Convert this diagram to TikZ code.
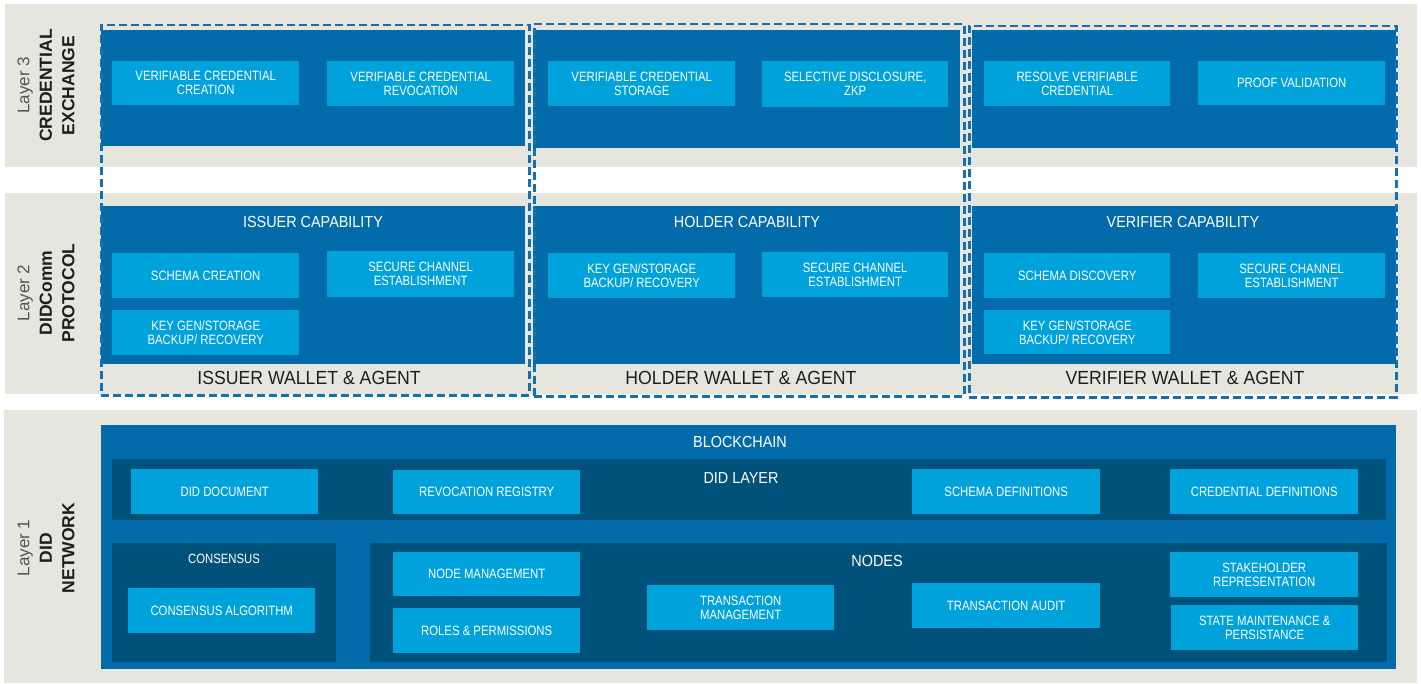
\documentclass[tikz,border=0pt]{standalone}
\usepackage{fontspec}
\setmainfont{Liberation Sans}
\newfontfamily\boxfont[FakeStretch=0.84]{Liberation Sans}
\newfontfamily\titlefont[FakeStretch=0.9]{Liberation Sans}
\newfontfamily\walletfont[FakeStretch=0.93]{Liberation Sans}
\definecolor{bandgray}{HTML}{E6E6DF}
\definecolor{midblue}{HTML}{046BAB}
\definecolor{lightblue}{HTML}{00A2DB}
\definecolor{deepblue}{HTML}{00527A}
\definecolor{dashblue}{HTML}{1570B0}
\definecolor{labelgray}{HTML}{555555}
\definecolor{darktext}{HTML}{1E1E1E}
\tikzset{
  band/.style={fill=bandgray, draw=none, inner sep=0, anchor=north west},
  panel/.style={fill=midblue, draw=none, inner sep=0, anchor=north west},
  deeppanel/.style={fill=deepblue, draw=none, inner sep=0, anchor=north west},
  item/.style={fill=lightblue, draw=none, inner sep=0, anchor=north west, text=white,
    align=center, font=\boxfont\fontsize{13.5}{14}\selectfont},
  title/.style={text=white, inner sep=0, font=\titlefont\fontsize{16}{18}\selectfont},
  subtitle/.style={text=white, inner sep=0, font=\boxfont\fontsize{13.5}{14}\selectfont},
  wallet/.style={text=darktext, inner sep=0, font=\walletfont\fontsize{19}{21}\selectfont},
  dashbox/.style={draw=dashblue, line width=2.5pt, dash pattern=on 8pt off 4pt, inner sep=0,
    anchor=north west},
  layerlabel/.style={rotate=90, align=center, inner sep=0, font=\fontsize{17}{22.5}\selectfont}
}
\newcommand{\lyr}[1]{{\fontsize{17}{22.5}\selectfont\color{labelgray}#1}}
\newcommand{\lyb}[1]{{\fontsize{17.5}{22.5}\selectfont\bfseries\color{darktext}#1}}
\begin{document}
\begin{tikzpicture}[x=1pt,y=-1pt]
\useasboundingbox (0,0) rectangle (1421,684);
\fill[white] (0,0) rectangle (1421,684);
% bands
\node[band, minimum width=1412pt, minimum height=163pt] (b3) at (5,4) {};
\node[band, minimum width=1412pt, minimum height=201pt] (b2) at (5,193) {};
\node[band, minimum width=1413pt, minimum height=273pt] (b1) at (4,410) {};
% layer labels
\node[layerlabel] (l3) at (46,85.5) {\lyr{Layer 3}\\\lyb{CREDENTIAL}\\\lyb{EXCHANGE}};
\node[layerlabel] (l2) at (46,293) {\lyr{Layer 2}\\\lyb{DIDComm}\\\lyb{PROTOCOL}};
\node[layerlabel] (l1) at (46,548) {\lyr{Layer 1}\\\lyb{DID}\\\lyb{NETWORK}};
% layer 3 panels
\node[panel, minimum width=424pt, minimum height=116pt] (ip3) at (101,30) {};
\node[panel, minimum width=427pt, minimum height=118pt] (hp3) at (533,30) {};
\node[panel, minimum width=424pt, minimum height=118pt] (vp3) at (972,30) {};
% layer 2 panels
\node[panel, minimum width=424pt, minimum height=158pt] (ip2) at (101,206) {};
\node[panel, minimum width=427pt, minimum height=158pt] (hp2) at (533,206) {};
\node[panel, minimum width=424pt, minimum height=158pt] (vp2) at (972,206) {};
% dashed wallet boxes
\node[dashbox, minimum width=428pt, minimum height=370pt] (iw) at (100,24) {};
\node[dashbox, minimum width=430pt, minimum height=372pt] (hw) at (533,23) {};
\node[dashbox, minimum width=427pt, minimum height=371pt] (vw) at (968,25) {};
% layer 3 items
\node[item, minimum width=187pt, minimum height=44pt] (vcc) at (112,61) {VERIFIABLE CREDENTIAL\\CREATION};
\node[item, minimum width=187pt, minimum height=45pt] (vcr) at (327,61) {VERIFIABLE CREDENTIAL\\REVOCATION};
\node[item, minimum width=187pt, minimum height=45pt] (vcs) at (548,61) {VERIFIABLE CREDENTIAL\\STORAGE};
\node[item, minimum width=186pt, minimum height=46pt] (sdz) at (762,61) {SELECTIVE DISCLOSURE,\\ZKP};
\node[item, minimum width=186pt, minimum height=45pt] (rvc) at (984,61) {RESOLVE VERIFIABLE\\CREDENTIAL};
\node[item, minimum width=187pt, minimum height=44pt] (pv) at (1198,61) {PROOF VALIDATION};
% layer 2 titles
\node[title] (icap) at (313,222) {ISSUER CAPABILITY};
\node[title] (hcap) at (747,222) {HOLDER CAPABILITY};
\node[title] (vcap) at (1183,222) {VERIFIER CAPABILITY};
% layer 2 items
\node[item, minimum width=187pt, minimum height=45pt] (isc) at (112,253) {SCHEMA CREATION};
\node[item, minimum width=187pt, minimum height=46pt] (iscs) at (327,251) {SECURE CHANNEL\\ESTABLISHMENT};
\node[item, minimum width=187pt, minimum height=45pt] (ikg) at (112,310) {KEY GEN/STORAGE\\BACKUP/ RECOVERY};
\node[item, minimum width=187pt, minimum height=45pt] (hkg) at (548,253) {KEY GEN/STORAGE\\BACKUP/ RECOVERY};
\node[item, minimum width=186pt, minimum height=45pt] (hscs) at (762,252) {SECURE CHANNEL\\ESTABLISHMENT};
\node[item, minimum width=186pt, minimum height=45pt] (vsd) at (984,253) {SCHEMA DISCOVERY};
\node[item, minimum width=187pt, minimum height=45pt] (vscs) at (1198,253) {SECURE CHANNEL\\ESTABLISHMENT};
\node[item, minimum width=186pt, minimum height=44pt] (vkg) at (984,310) {KEY GEN/STORAGE\\BACKUP/ RECOVERY};
% wallet labels
\node[wallet] (iwl) at (309,378) {ISSUER WALLET \& AGENT};
\node[wallet] (hwl) at (741,378) {HOLDER WALLET \& AGENT};
\node[wallet] (vwl) at (1185,378) {VERIFIER WALLET \& AGENT};
% layer 1
\node[panel, minimum width=1295pt, minimum height=244pt] (bc) at (101,425) {};
\node[title] (bct) at (740,442) {BLOCKCHAIN};
\node[deeppanel, minimum width=1274pt, minimum height=61pt] (didl) at (112,459) {};
\node[title] (didt) at (741,478) {DID LAYER};
\node[item, minimum width=187pt, minimum height=45pt] (dd) at (131,469) {DID DOCUMENT};
\node[item, minimum width=187pt, minimum height=44pt] (rr) at (393,470) {REVOCATION REGISTRY};
\node[item, minimum width=188pt, minimum height=45pt] (sd) at (912,469) {SCHEMA DEFINITIONS};
\node[item, minimum width=188pt, minimum height=45pt] (cd) at (1170,469) {CREDENTIAL DEFINITIONS};
\node[deeppanel, minimum width=224pt, minimum height=119pt] (cons) at (112,543) {};
\node[subtitle] (const) at (224,559) {CONSENSUS};
\node[item, minimum width=187pt, minimum height=45pt] (ca) at (128,588) {CONSENSUS ALGORITHM};
\node[deeppanel, minimum width=1017pt, minimum height=119pt] (nodes) at (370,543) {};
\node[title] (nodest) at (877,561) {NODES};
\node[item, minimum width=187pt, minimum height=44pt] (nm) at (393,552) {NODE MANAGEMENT};
\node[item, minimum width=187pt, minimum height=45pt] (rp) at (393,608) {ROLES \& PERMISSIONS};
\node[item, minimum width=187pt, minimum height=45pt] (tm) at (647,585) {TRANSACTION\\MANAGEMENT};
\node[item, minimum width=188pt, minimum height=45pt] (ta) at (912,583) {TRANSACTION AUDIT};
\node[item, minimum width=188pt, minimum height=45pt] (sr) at (1170,552) {STAKEHOLDER\\REPRESENTATION};
\node[item, minimum width=187pt, minimum height=45pt] (smp) at (1171,605) {STATE MAINTENANCE \&\\PERSISTANCE};
\end{tikzpicture}
\end{document}
